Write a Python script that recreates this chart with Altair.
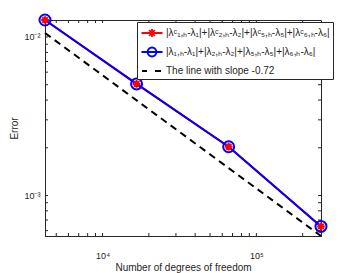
import altair as alt
import pandas as pd

# ---- data ----
dofs = [4225, 16641, 66049, 263169]
err_corrected = [0.0128, 0.00506, 0.00203, 0.000638]
err_plain = [0.0128, 0.00506, 0.00203, 0.000638]
ref_x = [4225, 263169]
ref_y = [0.0106, 0.000555]

series_names = [
    "|λᶜ₁,ₕ-λ₁|+|λᶜ₂,ₕ-λ₂|+|λᶜ₅,ₕ-λ₅|+|λᶜ₆,ₕ-λ₆|",
    "|λ₁,ₕ-λ₁|+|λ₂,ₕ-λ₂|+|λ₅,ₕ-λ₅|+|λ₆,ₕ-λ₆|",
    "The line with slope  -0.72",
]
series_colors = ["#ff0000", "#0000ff", "#000000"]

x_major = [10000, 100000]
x_major_labels = ["10⁴", "10⁵"]
y_major = [0.001, 0.01]
y_major_labels = ["10⁻³", "10⁻²"]
x_ticks = [5000, 6000, 7000, 8000, 9000, 10000, 20000, 30000, 40000, 50000,
           60000, 70000, 80000, 90000, 100000, 200000]
y_ticks = [0.0006, 0.0007, 0.0008, 0.0009, 0.001, 0.002, 0.003, 0.004, 0.005,
           0.006, 0.007, 0.008, 0.009, 0.01]

x_domain = [4225, 263169]
y_domain = [0.000555, 0.0128]

# ---- layout / style ----
W, H = 276, 216
AX = "#262626"
FONT = "Liberation Sans"

legend_paths = [
    "M-1.5,0H1.5M-0.57,0H0.57M0,-0.57V0.57M-0.4,-0.4L0.4,0.4M-0.4,0.4L0.4,-0.4",
    "M-1.5,0H1.5M0.64,0A0.64,0.64 0 1,1 -0.64,0A0.64,0.64 0 1,1 0.64,0",
    "M-1.43,0H-0.71M0.43,0H1.29",
]
asterisk = "M-1,0H1M0,-1V1M-0.7,-0.7L0.7,0.7M-0.7,0.7L0.7,-0.7"

df_c = pd.DataFrame({"dofs": dofs, "err": err_corrected, "s": series_names[0]})
df_p = pd.DataFrame({"dofs": dofs, "err": err_plain, "s": series_names[1]})
df_r = pd.DataFrame({"dofs": ref_x, "err": ref_y, "s": series_names[2]})
df_all = pd.concat([df_c, df_p, df_r], ignore_index=True)
df_xt = pd.DataFrame({"dofs": x_ticks})
df_yt = pd.DataFrame({"err": y_ticks})


def lab_expr(vals, labs):
    expr = "''"
    for v, l in zip(vals, labs):
        expr = f"abs(datum.value - {v}) < {v}*0.01 ? '{l}' : " + expr
    return expr


xs = alt.Scale(type="log", domain=x_domain, nice=False, zero=False)
ys = alt.Scale(type="log", domain=y_domain, nice=False, zero=False)

xaxis = alt.Axis(values=x_major, labelExpr=lab_expr(x_major, x_major_labels),
                 ticks=False, tickSize=0, grid=False, domainColor=AX,
                 labelFont=FONT, labelFontSize=9, labelColor=AX, labelPadding=15,
                 title="Number of degrees of freedom", titleFont=FONT,
                 titleFontSize=10, titleFontWeight="normal", titleColor=AX,
                 titlePadding=2)
yaxis = alt.Axis(values=y_major, labelExpr=lab_expr(y_major, y_major_labels),
                 ticks=False, tickSize=0, grid=False, domainColor=AX,
                 labelFont=FONT, labelFontSize=9, labelColor=AX, labelPadding=5,
                 title="Error", titleFont=FONT, titleFontSize=10,
                 titleFontWeight="normal", titleColor=AX, titlePadding=4)

X = alt.X("dofs:Q", scale=xs, axis=xaxis)
Y = alt.Y("err:Q", scale=ys, axis=yaxis)

red_line = alt.Chart(df_c).mark_line(color=series_colors[0], strokeWidth=2).encode(x=X, y=Y)
blue_line = alt.Chart(df_p).mark_line(color=series_colors[1], strokeWidth=2).encode(x=X, y=Y)
blue_pts = alt.Chart(df_p).mark_point(shape="circle", size=121, filled=False,
                                      color=series_colors[1], strokeWidth=2,
                                      opacity=1).encode(x=X, y=Y)
red_pts = alt.Chart(df_c).mark_point(shape=asterisk, size=60, filled=False,
                                     color=series_colors[0], strokeWidth=2,
                                     opacity=1).encode(x=X, y=Y)
ref_line = alt.Chart(df_r).mark_line(color=series_colors[2], strokeWidth=2,
                                     strokeDash=[7, 5]).encode(x=X, y=Y)

# ticks (inward, all four sides)
xt_b = alt.Chart(df_xt).mark_rule(color=AX, strokeWidth=1).encode(
    x=X, y=alt.value(H), y2=alt.value(H - 3))
xt_t = alt.Chart(df_xt).mark_rule(color=AX, strokeWidth=1).encode(
    x=X, y=alt.value(0), y2=alt.value(3))
yt_l = alt.Chart(df_yt).mark_rule(color=AX, strokeWidth=1).encode(
    y=Y, x=alt.value(0), x2=alt.value(3))
yt_r = alt.Chart(df_yt).mark_rule(color=AX, strokeWidth=1).encode(
    y=Y, x=alt.value(W - 3), x2=alt.value(W))

leg = alt.Legend(title=None, orient="none", legendX=92, legendY=2,
                 fillColor="white", strokeColor=AX, padding=3,
                 labelFont=FONT, labelFontSize=10, labelColor=AX,
                 symbolSize=196, symbolStrokeWidth=1.8, labelLimit=400,
                 rowPadding=2, symbolOffset=4, labelOffset=6)

legend_layer = alt.Chart(df_all).mark_point(filled=False, opacity=0).encode(
    x=X, y=Y,
    color=alt.Color("s:N", scale=alt.Scale(domain=series_names, range=series_colors), legend=leg),
    shape=alt.Shape("s:N", scale=alt.Scale(domain=series_names, range=legend_paths), legend=leg),
)

chart = alt.layer(
    red_line, blue_line, blue_pts, red_pts, ref_line,
    xt_b, xt_t, yt_l, yt_r, legend_layer
).properties(
    width=W, height=H,
    autosize="none",
    padding={"left": 37, "top": 12, "right": 25, "bottom": 37},
    background="white",
).configure_view(stroke=AX, strokeWidth=1)

chart.save("out.html", embed_options={"renderer": "svg", "actions": False})
